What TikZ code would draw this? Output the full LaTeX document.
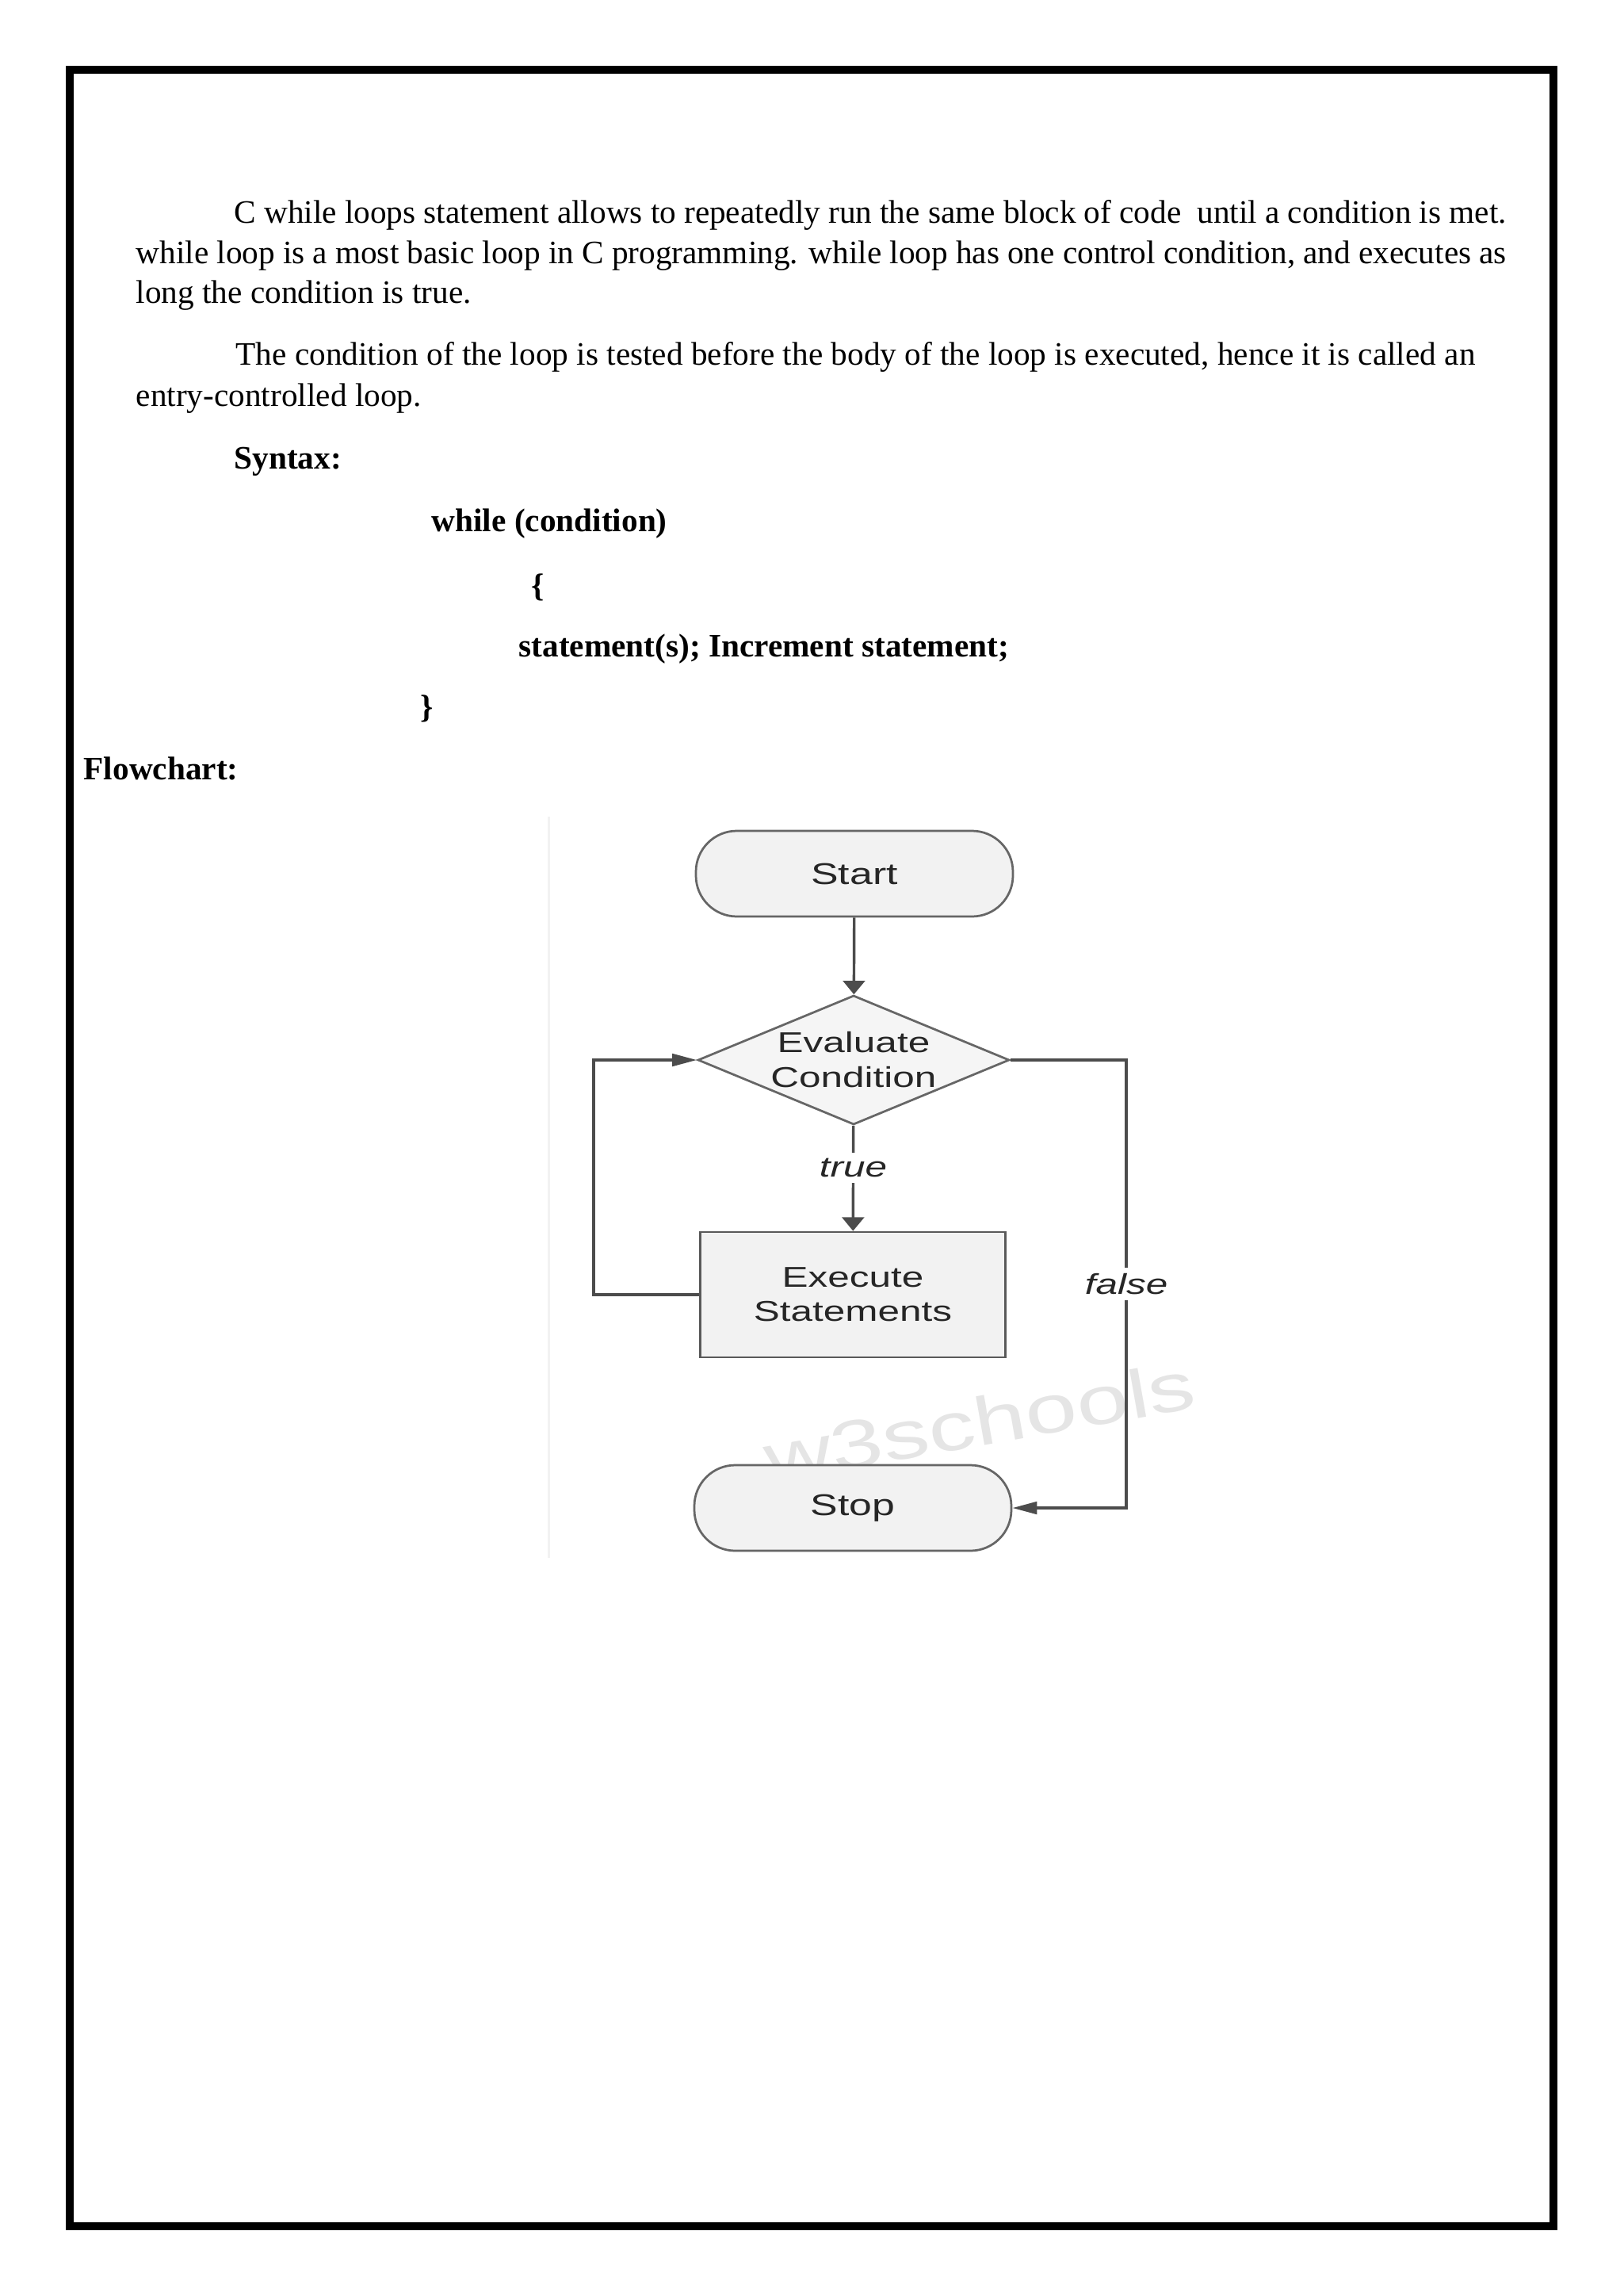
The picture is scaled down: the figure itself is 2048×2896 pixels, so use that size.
\documentclass[tikz,border=0pt]{standalone}
\usepackage{fontspec}
\setmainfont{Liberation Serif}
\newfontfamily\chartfont[FakeStretch=1.37]{Liberation Sans}
\usetikzlibrary{arrows.meta,shapes.geometric,positioning}
\newcommand{\pxu}{0.29066pt}

\begin{document}
\begin{tikzpicture}[x=0.29066pt, y=-0.29066pt,
		txt/.style={anchor=base west, inner sep=0pt, font=\fontsize{12}{14}\selectfont},
		bold/.style={anchor=base west, inner sep=0pt, font=\fontsize{12}{14}\selectfont\bfseries},
		term/.style={draw=black!60, fill=black!5, line width=0.8pt, rounded corners=15pt,
			minimum width=400*\pxu, minimum height=108*\pxu, text=black!85,
			font=\chartfont\fontsize{11}{13}\selectfont},
		decide/.style={diamond, aspect=2.41, draw=black!60, fill=black!4, line width=0.8pt,
			inner sep=0pt, minimum width=393*\pxu, minimum height=163*\pxu, align=center,
			text=black!85, font=\chartfont\fontsize{10.5}{12.8}\selectfont},
		proc/.style={draw=black!65, fill=black!5, line width=0.8pt, minimum width=385*\pxu,
			minimum height=158*\pxu, align=center, text=black!85,
			font=\chartfont\fontsize{10.5}{12.6}\selectfont},
		flow/.style={draw=black!70, line width=1pt},
		varr/.style={-{Triangle[length=5pt, width=8pt]}},
		harr/.style={-{Triangle[length=9pt, width=4.5pt]}},
		lbl/.style={fill=white, inner sep=2pt, text=black!85,
			font=\chartfont\itshape\fontsize{10.5}{12}\selectfont}]
	\useasboundingbox (0,0) rectangle (2048,2896);
	\draw[line width=10*\pxu] (88,88) rectangle (1960,2808);

	% text above the chart
	\node[txt] (p1a) at (295,281) {\makebox[466.5pt][s]{C while loops statement allows to repeatedly run the same block of code \ until a condition is met.}};
	\node[txt] (p1b) at (171,332) {\makebox[502.6pt][s]{while loop is a most basic loop in C programming. while loop has one control condition, and executes as}};
	\node[txt] (p1c) at (171,382) {long the condition is true.};
	\node[txt] (p2a) at (297,460) {The condition of the loop is tested before the body of the loop is executed, hence it is called an};
	\node[txt] (p2b) at (171,512) {entry-controlled loop.};
	\node[bold] (syn) at (295,591) {Syntax:};
	\node[bold] (head) at (544,670) {while (condition)};
	\node[bold] (open) at (670,752) {\{};
	\node[bold] (body) at (654,828) {statement(s); Increment statement;};
	\node[bold] (close) at (530,905) {\}};
	\node[bold] (flowtitle) at (105,983) {Flowchart:};

	% flowchart
	\draw[black!5, line width=3*\pxu] (692,1030) -- (692,1965);
	\node[anchor=base, rotate=10, text=black!10, font=\chartfont\fontsize{25}{25}\selectfont] (mark) at (1241,1823) {w3schools};
	\node[term] (start) at (1078,1102) {Start};
	\node[decide] (cond) at (1077,1337) {Evaluate\\Condition};
	\node[proc] (exec) at (1076,1633) {Execute\\Statements};
	\node[term] (stop) at (1076,1902) {Stop};
	\coordinate (back) at (749,1633);
	\coordinate (fright) at (1421,1337);
	\draw[flow, varr] (start) -- (cond);
	\draw[flow, varr] (cond) -- node[lbl, pos=0.4]{true} (exec);
	\draw[flow, harr] (exec.west) -- (back) |- (cond.west);
	\draw[flow, harr] (cond.east) -- (fright) |- node[lbl, pos=0.25]{false} (stop.east);
\end{tikzpicture}
\end{document}
